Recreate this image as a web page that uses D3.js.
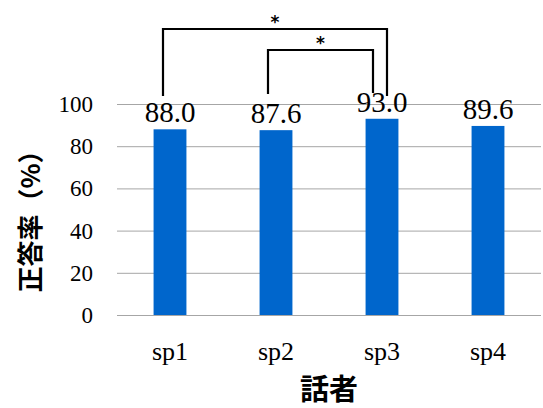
<!DOCTYPE html>
<html><head><meta charset="utf-8">
<script src="https://cdn.jsdelivr.net/npm/d3@7"></script>
<style>
body{margin:0;background:#fff}svg{display:block}
.num{font-family:"Liberation Serif","Times New Roman",serif;fill:#000}
.cjk{font-family:"Noto Sans CJK JP","Noto Sans CJK SC",sans-serif;font-weight:bold;fill:#000}
</style>
</head><body>
<script>
const speakers = ["sp1", "sp2", "sp3", "sp4"];
const accuracy = [88.0, 87.6, 93.0, 89.6];
const yTicks = [0, 20, 40, 60, 80, 100];
// significance brackets between pairs of speakers
const sigPairs = [["sp1", "sp3"], ["sp2", "sp3"]];
const sigMarks = ["*", "*"];

const W = 543, H = 408;
const svg = d3.select("body").append("svg").attr("width", W).attr("height", H);

const x = d3.scaleBand().domain(speakers).range([117, 541]).paddingInner(0.69).paddingOuter(0.345);
const y = d3.scaleLinear().domain([0, 100]).range([315, 104]);

// gridlines
svg.append("g").selectAll("line").data(yTicks).join("line")
  .attr("x1", 117).attr("x2", 541)
  .attr("y1", d => y(d) + 0.5).attr("y2", d => y(d) + 0.5)
  .attr("stroke", "#a6a6a6").attr("stroke-width", 1);

// y axis labels
const yAxis = d3.axisLeft(y).tickValues(yTicks).tickSize(0).tickPadding(0);
const gy = svg.append("g").attr("transform", "translate(93,0)").call(yAxis)
  .attr("font-family", null).attr("font-size", null);
gy.select(".domain").remove();
gy.selectAll("text").attr("class", "num").style("font-size", "23px").attr("fill", null).attr("dy", "0.33em");

// bars
svg.append("g").selectAll("rect").data(accuracy).join("rect")
  .attr("x", (d, i) => x(speakers[i]))
  .attr("width", x.bandwidth())
  .attr("y", d => y(d))
  .attr("height", d => y(0) - y(d))
  .attr("fill", "#0066cc");

// value labels
svg.append("g").selectAll("text").data(accuracy).join("text")
  .attr("class", "num")
  .attr("x", (d, i) => x(speakers[i]) + x.bandwidth() / 2)
  .attr("y", d => y(d) - 7)
  .attr("text-anchor", "middle")
  .style("font-size", "29px")
  .text(d => d.toFixed(1));

// x axis labels
const xAxis = d3.axisBottom(x).tickSize(0).tickPadding(0);
const gx = svg.append("g").attr("transform", "translate(0,360)").call(xAxis)
  .attr("font-family", null).attr("font-size", null);
gx.select(".domain").remove();
gx.selectAll("text").attr("class", "num").style("font-size", "26px").attr("fill", null).attr("dy", null);

// axis titles
svg.append("text")
  .attr("class", "cjk")
  .attr("transform", "translate(40,215) rotate(-90)")
  .attr("text-anchor", "middle")
  .style("font-size", "26px")
  .text("正答率（%）");
svg.append("text")
  .attr("class", "cjk")
  .attr("x", 329).attr("y", 400)
  .attr("text-anchor", "middle")
  .style("font-size", "29px")
  .text("話者");

// significance brackets
const bracketTop = [29, 50];
const legLeftOff = [-7, -8];
const legRightOff = [5, -9];
const legBottom = [[96, 96], [94, 93]];
sigPairs.forEach((p, i) => {
  const x1 = x(p[0]) + x.bandwidth() / 2 + legLeftOff[i];
  const x2 = x(p[1]) + x.bandwidth() / 2 + legRightOff[i];
  svg.append("path")
    .attr("d", `M${x1},${legBottom[i][0]}V${bracketTop[i]}H${x2}V${legBottom[i][1]}`)
    .attr("fill", "none").attr("stroke", "#000").attr("stroke-width", 2.2);
  svg.append("text")
    .attr("x", (x1 + x2) / 2).attr("y", bracketTop[i] - 1)
    .attr("text-anchor", "middle")
    .style("font-family", "'DejaVu Sans',sans-serif").style("font-weight", "bold").style("font-size", "17px")
    .text(sigMarks[i]);
});
</script>
</body></html>
